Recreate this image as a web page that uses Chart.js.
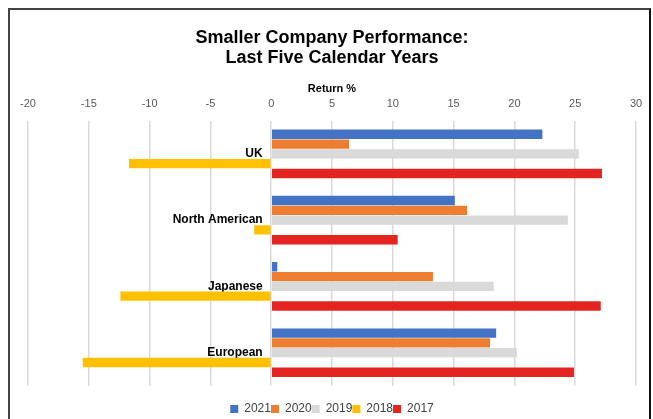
<!DOCTYPE html>
<html>
<head>
<meta charset="utf-8">
<script src="https://cdn.jsdelivr.net/npm/chart.js@4/dist/chart.umd.min.js"></script>
<style>
  html, body { margin: 0; padding: 0; background: #fff; overflow: hidden; width: 653px; height: 419px; }
  #wrap { position: absolute; left: 0; top: 0; width: 653px; height: 419px; }
  #frame { position: absolute; left: 8px; top: 8px; width: 639px; height: 600px;
           border-left: 2px solid #444; border-top: 2px solid #444; border-right: 2px solid #111;
           pointer-events: none; box-sizing: content-box; }
</style>
</head>
<body>
<div id="wrap"><canvas id="c" width="653" height="419"></canvas></div>
<div id="frame"></div>
<script>
const categories = ['UK', 'North American', 'Japanese', 'European'];
const seriesNames = ['2021', '2020', '2019', '2018', '2017'];
const values2021 = [22.3, 15.1, 0.5, 18.5];
const values2020 = [6.4, 16.1, 13.3, 18.0];
const values2019 = [25.3, 24.4, 18.3, 20.2];
const values2018 = [-11.7, -1.4, -12.4, -15.5];
const values2017 = [27.2, 10.4, 27.1, 24.9];
const xTickMin = -20, xTickMax = 30, xTickStep = 5;

const colors = ['#4472C4', '#ED7D31', '#D9D9D9', '#FFC000', '#E42421'];
const allValues = [values2021, values2020, values2019, values2018, values2017];

const FONT = "'Liberation Sans', Arial, sans-serif";

new Chart(document.getElementById('c'), {
  type: 'bar',
  data: {
    labels: categories,
    datasets: seriesNames.map((n, i) => ({
      label: n,
      data: allValues[i],
      backgroundColor: colors[i],
      borderWidth: 0,
      barPercentage: 0.95,
      categoryPercentage: 0.74
    }))
  },
  options: {
    indexAxis: 'y',
    responsive: false,
    animation: false,
    devicePixelRatio: 1,
    layout: { padding: { left: 28, right: 17, top: 0, bottom: -6 } },
    plugins: {
      title: {
        display: true,
        text: ['Smaller Company Performance:', 'Last Five Calendar Years'],
        color: '#000',
        font: { family: FONT, size: 18, weight: 'bold', lineHeight: 1.12 },
        padding: { top: 28, bottom: 10 }
      },
      legend: {
        position: 'bottom',
        title: { display: true, text: ' ', font: { size: 1 }, padding: { top: 16, bottom: 0 } },
        labels: {
          boxWidth: 8, boxHeight: 8, padding: 0,
          color: '#404040',
          font: { family: FONT, size: 12 }
        }
      },
      tooltip: { enabled: false }
    },
    scales: {
      x: {
        position: 'top',
        min: xTickMin, max: xTickMax,
        ticks: { stepSize: xTickStep, color: '#595959', font: { family: FONT, size: 11 }, padding: 10 },
        grid: { color: '#D9D9D9', lineWidth: 1.5, drawTicks: false },
        border: { display: false },
        title: { display: true, text: 'Return %', color: '#000', font: { family: FONT, size: 11, weight: 'bold' }, padding: { top: 4, bottom: -8 } }
      },
      y: {
        position: { x: -0.7 },
        grid: { display: false, drawTicks: false },
        border: { display: false },
        ticks: { color: '#000', font: { family: FONT, size: 12, weight: 'bold' } }
      }
    }
  }
});
</script>
</body>
</html>
